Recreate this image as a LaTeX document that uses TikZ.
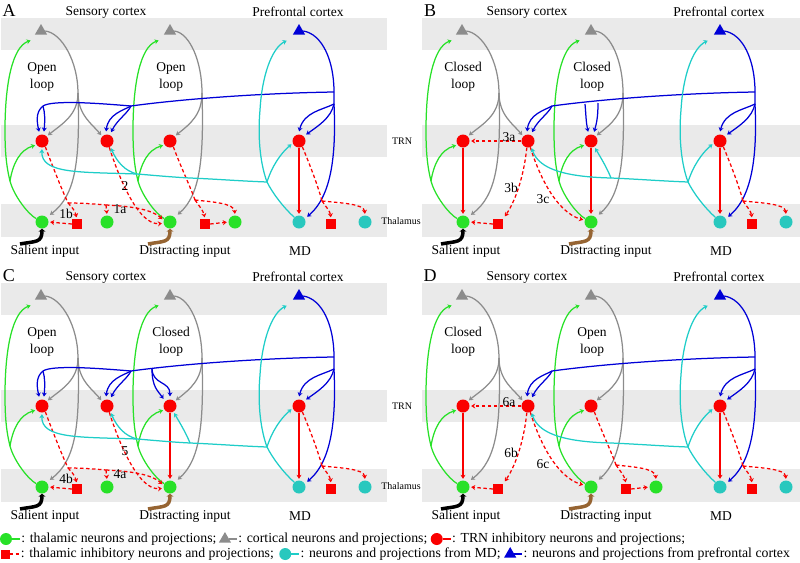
\documentclass[tikz,border=0pt]{standalone}
\usepackage{fontspec}
\setmainfont{Liberation Serif}
\usetikzlibrary{positioning, shapes.geometric, arrows.meta}

\definecolor{bandgray}{RGB}{234,234,234}
\definecolor{thalgreen}{RGB}{40,225,40}
\definecolor{cortgray}{RGB}{140,140,140}
\definecolor{trnred}{RGB}{250,0,0}
\definecolor{pfcblue}{RGB}{0,0,215}
\definecolor{mdcyan}{RGB}{40,200,190}
\definecolor{mdline}{RGB}{30,205,200}
\definecolor{inbrown}{RGB}{150,100,50}

% parts shared by all four panels: #1 letter, #2/#3 loop type, #4 band length
\newcommand{\panelbase}[4]{%
  \fill[band] (1,18) rectangle (#4,50);
  \fill[band] (1,125) rectangle (#4,157);
  \fill[band] (1,204) rectangle (#4,237);
  \node[letterfont] (letter) at (9,11) {#1};
  \node[maintext] (senslab) at (106,12) {Sensory cortex};
  \node[maintext] (pfclab) at (298,12) {Prefrontal cortex};
  \node[maintext] (sallab) at (45,251) {Salient input};
  \node[maintext] (dislab) at (185,251) {Distracting input};
  \node[maintext] (mdlab) at (300,251) {MD};
  \node[maintext, align=center] (loopa) at (42,77) {#2\\loop};
  \node[maintext, align=center] (loopb) at (171,77) {#3\\loop};
  % neurons
  \node[pyrcell, fill=cortgray] (T1) at (41,31) {};
  \node[pyrcell, fill=cortgray] (T2) at (170,31) {};
  \node[pyrcell, fill=pfcblue] (P) at (299,31) {};
  \node[trncell] (R1) at (42,141) {};
  \node[trncell] (R2) at (107,141) {};
  \node[trncell] (R3) at (170,141) {};
  \node[trncell] (R4) at (299,141) {};
  \node[thalcell] (G1) at (42,222) {};
  \node[thalcell] (G2) at (170,222) {};
  \node[mdcell] (MD) at (299,222) {};
  \node[inhcell] (Q3) at (331,224) {};
  \node[mdcell] (M2) at (365,222) {};
  % the two sensory loops
  \foreach \gc/\rc/\tc/\col/\dx/\kx in {G1/R1/T1/1/0/78, G2/R3/T2/2/128/74} {
    \begin{scope}[shift={(\dx,0)}]
      \coordinate (J\col) at (10,181);
      \coordinate (K\col) at (\kx,93);
      \coordinate (in\col) at (32,40);
      \draw[thal] (\gc.150) .. controls (28,214) and (14,196) .. (J\col);
      \draw[thal, axtip] (J\col) .. controls (6,165) and (5,150) .. (5,130) .. controls (5,85) and (12,47) .. (in\col);
      \draw[thal, axtip] (J\col) .. controls (13,163) and (20,150) .. (\rc.215);
      \draw[cort] (\tc.east) .. controls (62,33) and (\kx,62) .. (K\col);
      \draw[cort, axtip] (K\col) .. controls (\kx,115) and (62,124) .. (\rc.45);
      \draw[cort, axtip, shorten >=4pt] (K\col) .. controls ({\kx+2},160) and ({\kx-2},195) .. (\gc.45);
    \end{scope}
  }
  \draw[cort, axtip] (K1) .. controls (78,115) and (92,124) .. (R2.135);
  % prefrontal projections
  \coordinate (KB) at (334,92);
  \coordinate (KB2) at (334,104);
  \coordinate (JB) at (131,106);
  \draw[pfc] (P.east) .. controls (322,34) and (334,60) .. (KB) -- (KB2);
  \draw[pfc, ptip] (KB2) .. controls (336,150) and (333,195) .. (MD.30);
  \draw[pfc, ptip] (KB2) .. controls (331,118) and (318,126) .. (R4.45);
  \draw[pfc, ptip] (KB2) .. controls (322,110) and (304,112) .. (R4.95);
  \draw[pfc] (KB) .. controls (270,93) and (190,98) .. (JB);
  \draw[pfc, ptip] (JB) .. controls (124,110) and (108,114) .. (R2.100);
  \draw[pfc, ptip] (JB) .. controls (127,114) and (117,120) .. (R2.65);
  % MD projections
  \coordinate (KC) at (267,182);
  \coordinate (JC3) at (190,178);
  \coordinate (inP) at (288,40);
  \draw[md] (MD.135) .. controls (284,208) and (273,194) .. (KC);
  \draw[md, axtip] (KC) .. controls (259,160) and (258,132) .. (260,110) .. controls (262,75) and (272,48) .. (inP);
  \draw[md, axtip] (KC) .. controls (272,166) and (281,153) .. (R4.200);
  \draw[md] (KC) .. controls (240,181) and (215,179) .. (JC3);
  % TRN of the MD loop
  \coordinate (KR4) at (322,201);
  \draw[trn, axtip] (R4) -- (MD);
  \draw[inh] (R4.300) .. controls (310,165) and (318,186) .. (KR4);
  \draw[inh, axtip] (KR4) .. controls (326,207) and (330,211) .. (Q3.north);
  \draw[inh, axtip] (KR4) .. controls (342,203) and (364,204) .. (M2.north);
  % inputs
  \coordinate (salin) at (20,244);
  \coordinate (disin) at (148,244);
  \draw[input, black] (salin) .. controls (36,241) and (42,243) .. (G1.south);
  \draw[input, inbrown] (disin) .. controls (164,241) and (170,243) .. (G2.south);
}

% open loop on the salient side: #1/#2/#3 pathway numbers
\newcommand{\openleft}[3]{%
  \node[inhcell] (Q1) at (77,224) {};
  \node[thalcell] (G1b) at (107,222) {};
  \coordinate (KR1) at (68,203);
  \coordinate (KR1b) at (106,205);
  \draw[inh] (R1.300) .. controls (52,165) and (62,190) .. (KR1);
  \draw[inh, axtip] (KR1) .. controls (72,207) and (75,211) .. (Q1.north);
  \draw[inh] (KR1) .. controls (82,203) and (95,204) .. (KR1b);
  \draw[inh, axtip] (KR1b) -- (G1b.north);
  \draw[inh, axtip] (KR1b) .. controls (125,206) and (150,208) .. (G2.165);
  \draw[inh, axtip] (Q1.west) -- (G1.east);
  \draw[inh, axtip] (R2.290) .. controls (118,175) and (138,226) .. (G2.190);
  \node[numtext] (na) at (120,209) {#1};
  \node[numtext] (nb) at (66,214) {#2};
  \node[numtext] (nc) at (125,186) {#3};
}

% closed loop on the salient side
\newcommand{\closedleft}[3]{%
  \node[inhcell] (Q1) at (77,224) {};
  \draw[trn, axtip] (R1) -- (G1);
  \draw[inh, axtip] (R2.west) -- (R1.east);
  \draw[inh, axtip, shorten >=3pt] (R2.260) .. controls (103,175) and (95,200) .. (Q1.north east);
  \draw[inh, axtip] (R2.290) .. controls (118,175) and (135,212) .. (G2.165);
  \draw[inh, axtip] (Q1.west) -- (G1.east);
  \node[numtext] (na) at (88,137) {#1};
  \node[numtext] (nb) at (90,188) {#2};
  \node[numtext] (nc) at (122,199) {#3};
}

% open loop on the distracting side
\newcommand{\openright}{%
  \node[inhcell] (Q2) at (205,224) {};
  \node[thalcell] (G2b) at (235,222) {};
  \coordinate (KR3) at (195,200);
  \draw[inh] (R3.300) .. controls (180,165) and (190,186) .. (KR3);
  \draw[inh, axtip] (KR3) .. controls (199,206) and (203,210) .. (Q2.north);
  \draw[inh, axtip] (KR3) .. controls (212,202) and (234,203) .. (G2b.north);
  \draw[inh, axtip] (Q2.east) -- (G2b.west);
}

% prefrontal input to the salient TRN cell
\newcommand{\pfcsalient}{%
  \coordinate (JB1) at (43,106);
  \draw[pfc] (JB) .. controls (95,103) and (52,100) .. (JB1);
  \draw[pfc, ptip] (JB1) .. controls (37,111) and (36,118) .. (R1.110);
  \draw[pfc, ptip] (JB1) .. controls (45,113) and (45,120) .. (R1.75);
}

% MD input to both sensory TRN cells
\newcommand{\mdboth}{%
  \coordinate (JC) at (137,174);
  \draw[md] (JC3) .. controls (170,177) and (150,175) .. (JC);
  \draw[md, axtip] (JC) .. controls (80,172) and (41,174) .. (R1.270);
  \draw[md, axtip] (JC) .. controls (125,171) and (117,162) .. (R2.300);
}

\begin{document}
\begin{tikzpicture}[
    x=1pt, y=-1pt,
    band/.style={fill=bandgray},
    maintext/.style={font=\fontsize{13.5}{17}\selectfont},
    numtext/.style={font=\fontsize{13.5}{17}\selectfont, inner sep=0pt},
    smalltext/.style={font=\fontsize{10}{12}\selectfont},
    letterfont/.style={font=\fontsize{18}{18}\selectfont},
    keytext/.style={font=\fontsize{13.8}{16}\selectfont, inner sep=0pt},
    neuron/.style={circle, inner sep=0pt, minimum size=13pt},
    thalcell/.style={neuron, fill=thalgreen},
    trncell/.style={neuron, fill=trnred},
    mdcell/.style={neuron, fill=mdcyan},
    inhcell/.style={rectangle, inner sep=0pt, minimum size=10pt, fill=trnred},
    pyrcell/.style={regular polygon, regular polygon sides=3, inner sep=0pt, minimum size=14pt},
    thal/.style={line width=1.25pt, draw=thalgreen},
    cort/.style={line width=1.25pt, draw=cortgray},
    pfc/.style={line width=1.25pt, draw=pfcblue},
    md/.style={line width=1.25pt, draw=mdline},
    trn/.style={line width=1.25pt, draw=trnred},
    inh/.style={trn, dash pattern=on 3.5pt off 2.5pt},
    axtip/.style={-{Stealth[length=4pt, width=5pt]}, shorten >=1.5pt},
    ptip/.style={axtip, shorten >=3pt},
    input/.style={line width=3.5pt, -{Stealth[length=3pt, width=7pt]}}
]
\useasboundingbox (0,0) rectangle (800,562);

% A: both loops open
\begin{scope}[name prefix=A-]
  \panelbase{A}{Open}{Open}{387}
  \openleft{1a}{1b}{2}
  \openright
  \pfcsalient
  \mdboth
  \node[smalltext] (trnlab) at (402,141) {TRN};
  \node[smalltext] (thallab) at (401,221) {Thalamus};
\end{scope}

% B: both loops closed
\begin{scope}[shift={(421,0)}, name prefix=B-]
  \panelbase{B}{Closed}{Closed}{380}
  \closedleft{3a}{3b}{3c}
  \draw[trn, axtip] (R3) -- (G2);
  \coordinate (BB1) at (164,104);
  \coordinate (BB2) at (177,103);
  \draw[pfc, ptip] (BB1) .. controls (165,115) and (165,122) .. (R3.110);
  \draw[pfc, ptip] (BB2) .. controls (177,115) and (176,122) .. (R3.70);
  \draw[md, axtip] (JC3) .. controls (150,177) and (118,171) .. (R2.300);
  \draw[md, axtip] (JC3) .. controls (186,168) and (180,158) .. (R3.300);
\end{scope}

% C: salient loop open, distracting loop closed
\begin{scope}[shift={(0,265)}, name prefix=C-]
  \panelbase{C}{Open}{Closed}{387}
  \openleft{4a}{4b}{5}
  \draw[trn, axtip] (R3) -- (G2);
  \pfcsalient
  \coordinate (CB) at (152,104);
  \draw[pfc, ptip] (CB) .. controls (152,122) and (158,126) .. (R3.135);
  \draw[pfc, ptip] (CB) .. controls (153,120) and (170,116) .. (R3.90);
  \mdboth
  \draw[md, axtip] (JC3) .. controls (186,168) and (180,158) .. (R3.300);
  \node[smalltext] (trnlab) at (402,141) {TRN};
  \node[smalltext] (thallab) at (401,221) {Thalamus};
\end{scope}

% D: salient loop closed, distracting loop open
\begin{scope}[shift={(421,265)}, name prefix=D-]
  \panelbase{D}{Closed}{Open}{380}
  \closedleft{6a}{6b}{6c}
  \openright
  \draw[md, axtip] (JC3) .. controls (150,177) and (118,171) .. (R2.300);
\end{scope}

% legend
\node[thalcell, minimum size=12pt] (key1) at (6,539) {};
\draw[thal] (key1.east) -- ++(8,0) coordinate (key1d);
\node[keytext, right=1pt of key1d] (keytxt1) {: thalamic neurons and projections;};
\node[pyrcell, fill=cortgray, right=4pt of keytxt1] (key2) {};
\draw[cort] (key2.east) -- ++(8,0) coordinate (key2d);
\node[keytext, right=1pt of key2d] (keytxt2) {: cortical neurons and projections;};
\node[trncell, minimum size=12pt, right=3pt of keytxt2] (key3) {};
\draw[trn] (key3.east) -- ++(8,0) coordinate (key3d);
\node[keytext, right=1pt of key3d] (keytxt3) {: TRN inhibitory neurons and projections;};

\node[inhcell, minimum size=9pt] (key4) at (5,554) {};
\draw[inh] (key4.east) -- ++(10,0) coordinate (key4d);
\node[keytext, right=1pt of key4d] (keytxt4) {: thalamic inhibitory neurons and projections;};
\node[mdcell, minimum size=12pt, right=5pt of keytxt4] (key5) {};
\draw[md] (key5.east) -- ++(8,0) coordinate (key5d);
\node[keytext, right=1pt of key5d] (keytxt5) {: neurons and projections from MD;};
\node[pyrcell, fill=pfcblue, right=5pt of keytxt5] (key6) {};
\draw[pfc] (key6.east) -- ++(8,0) coordinate (key6d);
\node[keytext, right=1pt of key6d] (keytxt6) {: neurons and projections from prefrontal cortex};
\end{tikzpicture}
\end{document}
